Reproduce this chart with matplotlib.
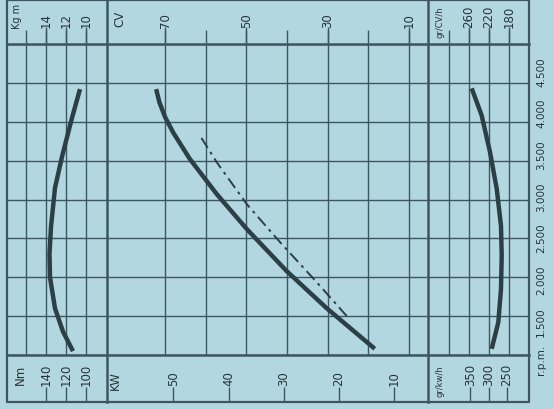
import matplotlib.pyplot as plt

# curves, rpm on the vertical axis
torque_rpm = [1050, 1300, 1600, 2000, 2300, 2650, 3150, 3550, 4050, 4420]
torque_kgm = [11.3, 12.3, 13.1, 13.6, 13.65, 13.5, 13.1, 12.4, 11.4, 10.6]

power_rpm = [1080, 1600, 2080, 2620, 3070, 3520, 3860, 4060, 4250, 4420]
power_cv = [18.4, 30.2, 40.1, 49.9, 57.3, 63.9, 68.0, 70.0, 71.4, 72.2]

power2_rpm = [1500, 1720, 1960, 2450, 2940, 3480, 3820]
power2_cv = [25.3, 29.0, 33.1, 41.7, 49.9, 57.3, 61.4]

fuel_rpm = [1080, 1420, 1850, 2280, 2660, 3140, 3610, 4080, 4430]
fuel_gcvh = [214.6, 201.4, 196.0, 194.6, 196.0, 204.6, 218.0, 234.6, 254.6]

# scales
rpm_labels = [1500, 2000, 2500, 3000, 3500, 4000, 4500]
kgm_grid = [16, 14, 12, 10]
kgm_ticks = [14, 12, 10]
nm_ticks = [140, 120, 100]
cv_grid = [70, 60, 50, 40, 30, 20, 10]
cv_ticks = [70, 50, 30, 10]
kw_ticks = [50, 40, 30, 20, 10]
gcv_grid = [300, 260, 220, 180]
gcv_ticks = [260, 220, 180]
gkw_ticks = [350, 300, 250]

BG = "#b3d7e1"
LINE = "#3d5660"
CURVE = "#2c3f47"
TEXT = "#26353b"

W, H = 554, 410
TOP, BOT = 45, 356  # grid area in pixels from top
fig = plt.figure(figsize=(W / 100, H / 100), dpi=100)
fig.patch.set_facecolor(BG)

bg = fig.add_axes([0, 0, 1, 1])
bg.set_xlim(0, W)
bg.set_ylim(H, 0)
bg.axis("off")

# outer frame and thick separators
kw_frame = dict(color=LINE, lw=1.6, solid_capstyle="projecting")
bg.plot([7, 529, 529, 7, 7], [1, 1, 403, 403, 1], **kw_frame)
bg.plot([7, 529], [TOP, TOP], color=LINE, lw=1.8)
bg.plot([7, 529], [BOT, BOT], color=LINE, lw=1.8)
bg.plot([107, 107], [1, 403], color=LINE, lw=1.8)
bg.plot([428, 428], [1, 403], color=LINE, lw=1.8)


def yfrac(py):
    return (BOT - py) / (BOT - TOP)


def section(x0, x1, xlim, grid):
    ax = fig.add_axes([x0 / W, (H - BOT) / H, (x1 - x0) / W, (BOT - TOP) / H])
    ax.patch.set_alpha(0)
    for s in ax.spines.values():
        s.set_visible(False)
    ax.set_xlim(*xlim)
    ax.set_ylim(1000, 5000)
    ax.set_xticks(grid)
    ax.set_yticks(range(1000, 5001, 500))
    ax.tick_params(length=0, labelbottom=False, labelleft=False)
    ax.grid(True, color=LINE, lw=1.0)
    tr = ax.get_xaxis_transform()
    ax.vlines(grid, 1.0, yfrac(31), color=LINE, lw=1.0, transform=tr, clip_on=False)
    return ax


def top_labels(ax, pos, labels):
    tr = ax.get_xaxis_transform()
    ax.vlines(pos, 1.0, yfrac(28), color=LINE, lw=1.0, transform=tr, clip_on=False)
    for p, lab in zip(pos, labels):
        ax.text(p, yfrac(28), str(lab), transform=tr, rotation=90, ha="center",
                va="bottom", fontsize=8.5, color=TEXT, clip_on=False)


def bottom_labels(ax, pos, labels):
    tr = ax.get_xaxis_transform()
    ax.vlines(pos, yfrac(388), yfrac(403), color=LINE, lw=1.0, transform=tr, clip_on=False)
    for p, lab in zip(pos, labels):
        ax.text(p, yfrac(386), str(lab), transform=tr, rotation=90, ha="center",
                va="bottom", fontsize=8.5, color=TEXT, clip_on=False)


# torque
ax_t = section(7, 107, (17.9, 7.9), kgm_grid)
ax_t.plot(torque_kgm, torque_rpm, color=CURVE, lw=3.2, solid_capstyle="butt",
          solid_joinstyle="round")
top_labels(ax_t, kgm_ticks, kgm_ticks)
bottom_labels(ax_t, [n / 10 for n in nm_ticks], nm_ticks)

# power
ax_p = section(107, 428, (84.3, 5.3), cv_grid)
ax_p.plot(power_cv, power_rpm, color=CURVE, lw=3.2, solid_capstyle="butt",
          solid_joinstyle="round")
ax_p.plot(power2_cv, power2_rpm, color=CURVE, lw=1.4, dashes=[6, 2.5, 1.5, 2.5])
top_labels(ax_p, cv_ticks, cv_ticks)
bottom_labels(ax_p, [k / 0.7355 for k in kw_ticks], kw_ticks)

# specific fuel consumption
ax_f = section(428, 529, (342, 140), gcv_grid)
ax_f.plot(fuel_gcvh, fuel_rpm, color=CURVE, lw=3.2, solid_capstyle="butt",
          solid_joinstyle="round")
top_labels(ax_f, gcv_ticks, gcv_ticks)
bottom_labels(ax_f, [g * 0.7355 for g in gkw_ticks], gkw_ticks)

# unit names
units = [("Kg m", 17, 29, 7), ("CV", 120, 27, 8.5), ("gr/CV/h", 440, 38, 6),
         ("Nm", 20, 385, 8.5), ("KW", 115, 390, 8.5), ("gr/kw/h", 440, 397, 6)]
for txt, x, y, fs in units:
    bg.text(x, y, txt, rotation=90, ha="center", va="bottom", fontsize=fs, color=TEXT)

# rpm scale printed along the right edge
for r in rpm_labels:
    y = 322 - (r - 1500) * 41.7 / 500
    bg.text(541, y, f"{r // 1000}.{r % 1000:03d}", rotation=90, ha="center",
            va="center", fontsize=7.5, color=TEXT)
bg.text(541, 360, "r.p.m.", rotation=90, ha="center", va="center", fontsize=7.5,
        color=TEXT)

fig.savefig("out.png", dpi=100, facecolor=BG)
